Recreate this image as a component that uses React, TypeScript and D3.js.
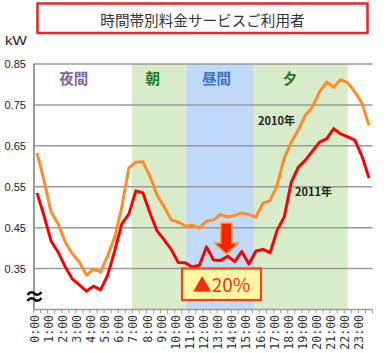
import { useEffect, useRef } from "react";
import * as d3 from "d3";

// half-hour samples, 0:00 .. 23:30 (kW)
const load2010 = [
  0.633, 0.565, 0.488, 0.459, 0.415, 0.386, 0.366, 0.334, 0.349, 0.342, 0.381, 0.427,
  0.5, 0.596, 0.61, 0.611, 0.575, 0.53, 0.501, 0.469, 0.464, 0.454, 0.456, 0.449,
  0.466, 0.469, 0.482, 0.476, 0.48, 0.486, 0.482, 0.476, 0.51, 0.516, 0.554, 0.62,
  0.659, 0.689, 0.725, 0.745, 0.782, 0.806, 0.793, 0.812, 0.804, 0.782, 0.755, 0.7,
];
const load2011 = [
  0.535, 0.479, 0.417, 0.39, 0.354, 0.325, 0.31, 0.295, 0.307, 0.298, 0.334, 0.393,
  0.459, 0.483, 0.54, 0.535, 0.486, 0.442, 0.42, 0.397, 0.365, 0.364, 0.354, 0.358,
  0.403, 0.371, 0.37, 0.38, 0.367, 0.392, 0.361, 0.393, 0.397, 0.389, 0.444, 0.476,
  0.561, 0.598, 0.615, 0.637, 0.659, 0.667, 0.692, 0.679, 0.672, 0.664, 0.625, 0.571,
];
const hourLabels = d3.range(24).map((h) => `${h}:00`);
const yTicks = [0.35, 0.45, 0.55, 0.65, 0.75, 0.85];

// tariff periods, in hours
const periodNames = ["夜間", "朝", "昼間", "夕"];
const periodStart = [0, 6.72, 10.52, 15.36];
const periodEnd = [6.72, 10.52, 15.36, 22.0];
const periodFill = ["none", "#d9ecc9", "#c1dafa", "#d9ecc9"];
const periodText = ["#8064a2", "#1f7a1f", "#3b74c6", "#1f7a1f"];
const periodLabelAt = [2.6, 8.2, 12.7, 17.9];

export default function App() {
  const svgRef = useRef<SVGSVGElement>(null);

  useEffect(() => {
    if (!svgRef.current) return;
    const svg = d3.select(svgRef.current);
    svg.selectAll("*").remove();

    const x = d3.scaleLinear().domain([0, 47]).range([37, 369]);
    const xh = (h: number) => x(h * 2);
    const y = d3.scaleLinear().domain([0.25, 0.85]).range([309.5, 64]);
    const left = x(-0.5);
    const right = x(47.5);

    // period bands
    periodNames.forEach((_, i) => {
      if (periodFill[i] === "none") return;
      svg
        .append("rect")
        .attr("x", xh(periodStart[i]))
        .attr("y", y(0.85))
        .attr("width", xh(periodEnd[i]) - xh(periodStart[i]))
        .attr("height", y(0.25) - y(0.85))
        .attr("fill", periodFill[i]);
    });

    // gridlines
    svg
      .append("g")
      .selectAll("line")
      .data(yTicks)
      .join("line")
      .attr("x1", left)
      .attr("x2", right)
      .attr("y1", (d) => y(d))
      .attr("y2", (d) => y(d))
      .attr("stroke", "#9a9a9a")
      .attr("stroke-width", 1.5);

    // y labels
    svg
      .append("g")
      .selectAll("text")
      .data(yTicks)
      .join("text")
      .attr("x", 26)
      .attr("y", (d) => y(d) + 4)
      .attr("text-anchor", "end")
      .attr("font-family", "Liberation Sans, Arial, sans-serif")
      .attr("font-size", 11)
      .attr("fill", "#222")
      .text((d) => d.toFixed(2));

    svg
      .append("text")
      .attr("x", 5)
      .attr("y", 45)
      .attr("font-family", "Liberation Sans, Arial, sans-serif")
      .attr("font-size", 12)
      .attr("textLength", 22)
      .attr("lengthAdjust", "spacingAndGlyphs")
      .attr("fill", "#222")
      .text("kW");

    // axes
    svg
      .append("line")
      .attr("x1", left + 0.5)
      .attr("x2", left + 0.5)
      .attr("y1", y(0.85))
      .attr("y2", y(0.25))
      .attr("stroke", "#9a9a9a")
      .attr("stroke-width", 2);
    svg
      .append("line")
      .attr("x1", left)
      .attr("x2", right)
      .attr("y1", y(0.25))
      .attr("y2", y(0.25))
      .attr("stroke", "#9a9a9a")
      .attr("stroke-width", 1.5);
    svg
      .append("g")
      .selectAll("line")
      .data(d3.range(49))
      .join("line")
      .attr("x1", (d) => x(d - 0.5))
      .attr("x2", (d) => x(d - 0.5))
      .attr("y1", y(0.25))
      .attr("y2", y(0.25) + 4)
      .attr("stroke", "#9a9a9a")
      .attr("stroke-width", 1);

    svg
      .append("g")
      .selectAll("text")
      .data(hourLabels)
      .join("text")
      .attr("transform", (_, i) => `translate(${xh(i) - 2.5},315) rotate(-90)`)
      .attr("text-anchor", "end")
      .attr("dominant-baseline", "central")
      .attr("font-family", "DejaVu Sans Mono, monospace")
      .attr("font-size", 11.5)
      .attr("fill", "#333")
      .text((d) => d);

    // axis break mark
    const wave = (yy: number) =>
      `M${left - 6},${yy + 1.5} C${left - 3},${yy - 3} ${left},${yy - 1} ${left + 1},${yy} S${left + 5},${yy + 3} ${left + 8},${yy - 1.5}`;
    [293.5, 299.5].forEach((yy) => {
      svg
        .append("path")
        .attr("d", wave(yy))
        .attr("fill", "none")
        .attr("stroke", "#111")
        .attr("stroke-width", 2.5);
    });

    // period labels
    periodNames.forEach((name, i) => {
      svg
        .append("text")
        .attr("x", xh(periodLabelAt[i]))
        .attr("y", 84)
        .attr("text-anchor", "middle")
        .attr("font-family", "Noto Sans CJK JP, sans-serif")
        .attr("font-weight", 700)
        .attr("font-size", 14.5)
        .attr("fill", periodText[i])
        .text(name);
    });

    // lines
    const line = d3
      .line<number>()
      .x((_, i) => x(i))
      .y((d) => y(d));
    svg
      .append("path")
      .datum(load2010)
      .attr("d", line)
      .attr("fill", "none")
      .attr("stroke", "#ff8c28")
      .attr("stroke-width", 3)
      .attr("stroke-linejoin", "round");
    svg
      .append("path")
      .datum(load2011)
      .attr("d", line)
      .attr("fill", "none")
      .attr("stroke", "#ff0000")
      .attr("stroke-width", 3)
      .attr("stroke-linejoin", "round");

    // series labels
    const seriesLabel = (t: string, xx: number, yy: number) =>
      svg
        .append("text")
        .attr("x", xx)
        .attr("y", yy)
        .attr("font-family", "Noto Sans CJK JP, sans-serif")
        .attr("font-weight", 700)
        .attr("font-size", 11)
        .attr("fill", "#222")
        .text(t);
    seriesLabel("2010年", 258, 125);
    seriesLabel("2011年", 295, 196);

    // arrow
    const ax = xh(13.4);
    svg
      .append("path")
      .attr(
        "d",
        `M${ax - 5.5},223 H${ax + 5.5} V243 H${ax + 12} L${ax},254 L${ax - 12},243 H${ax - 5.5} Z`
      )
      .attr("fill", "#f42400")
      .attr("stroke", "#f7a040")
      .attr("stroke-width", 1.5);

    // annotation box
    svg
      .append("rect")
      .attr("x", 182)
      .attr("y", 268.5)
      .attr("width", 79)
      .attr("height", 31.5)
      .attr("fill", "#fff8a3")
      .attr("stroke", "#f2461a")
      .attr("stroke-width", 2.2);
    svg
      .append("text")
      .attr("x", 221.5)
      .attr("y", 292)
      .attr("text-anchor", "middle")
      .attr("font-family", "Noto Sans CJK JP, sans-serif")
      .attr("font-size", 19)
      .attr("fill", "#f2300c")
      .text("▲20%");

    // title
    svg
      .append("rect")
      .attr("x", 37.5)
      .attr("y", 3.5)
      .attr("width", 330)
      .attr("height", 29.5)
      .attr("fill", "#fff")
      .attr("stroke", "#e8262a")
      .attr("stroke-width", 2.5);
    svg
      .append("text")
      .attr("x", 202.5)
      .attr("y", 26)
      .attr("text-anchor", "middle")
      .attr("font-family", "Noto Sans CJK JP, sans-serif")
      .attr("font-size", 14.6)
      .attr("fill", "#333")
      .text("時間帯別料金サービスご利用者");
  }, []);

  return (
    <svg
      ref={svgRef}
      width={390}
      height={353}
      style={{ position: "absolute", left: 0, top: 0, background: "#fff" }}
    />
  );
}
